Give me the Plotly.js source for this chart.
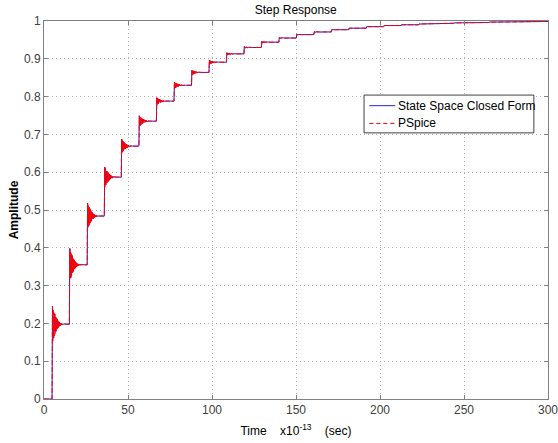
<!DOCTYPE html>
<html>
<head>
<meta charset="utf-8">
<script src="https://cdn.plot.ly/plotly-3.0.1.min.js"></script>
<style>html,body{margin:0;padding:0;background:#fff;}#chart{width:558px;height:443px;}</style>
</head>
<body>
<div id="chart"></div>
<script>
// Values
const stepTimes = [4.8, 15.1, 25.7, 35.9, 46.0, 56.5, 66.9, 77.4, 87.8, 98.2, 108.6, 119.0, 129.4, 139.8, 150.2, 160.6, 171.0, 181.4, 191.8, 202.2, 212.6, 223.0, 233.4, 243.8, 254.2, 264.6, 275.0, 285.4, 295.8];
const stepLevels = [0.198, 0.355, 0.484, 0.587, 0.669, 0.735, 0.788, 0.830, 0.864, 0.891, 0.913, 0.930, 0.944, 0.955, 0.964, 0.971, 0.977, 0.981, 0.985, 0.988, 0.990, 0.992, 0.994, 0.995, 0.996, 0.997, 0.998, 0.998, 0.999];
const stepPeaks  = [0.245, 0.398, 0.518, 0.614, 0.687, 0.749, 0.797, 0.838, 0.870, 0.896, 0.916, 0.932, 0.946, 0.956, 0.965, 0.972, 0.977, 0.981, 0.985, 0.988, 0.990, 0.992, 0.994, 0.995, 0.996, 0.997, 0.998, 0.998, 0.999];
const seriesNames = ['State Space Closed Form', 'PSpice'];
const xTicks = [0, 50, 100, 150, 200, 250, 300];
const yTicks = [0, 0.1, 0.2, 0.3, 0.4, 0.5, 0.6, 0.7, 0.8, 0.9, 1];

const ringDur = 8;
function buildWave(nRing) {
  const x = [0], y = [0];
  let prev = 0;
  for (let i = 0; i < stepTimes.length; i++) {
    const t0 = stepTimes[i], lv = stepLevels[i], pk = stepPeaks[i];
    x.push(t0); y.push(prev);
    x.push(t0 + 0.25); y.push(pk);
    const amp = pk - lv;
    for (let k = 1; k <= nRing; k++) {
      const f = k / nRing;
      const a = amp * Math.pow(1 - f, 3);
      x.push(t0 + 0.25 + ringDur * f);
      y.push(lv + (k % 2 ? -a : a));
    }
    prev = lv;
  }
  x.push(300); y.push(prev);
  return {x, y};
}
const blue = buildWave(12);
const red = buildWave(70);

const data = [
  {x: blue.x, y: blue.y, type: 'scatter', mode: 'lines', name: seriesNames[0],
   line: {color: '#2020e0', width: 1}},
  {x: red.x, y: red.y, type: 'scatter', mode: 'lines', name: seriesNames[1],
   line: {color: '#ff0000', width: 1, dash: '5px,2px'}}
];

const FONT = 'Liberation Sans, Arial, sans-serif';
const axisCommon = {
  showline: true, mirror: 'ticks', linecolor: '#808080', linewidth: 1,
  ticks: 'inside', ticklen: 4, tickcolor: '#808080',
  showgrid: true, gridcolor: '#b0b0b0', griddash: '1px,3px', gridwidth: 1,
  zeroline: false, ticklabeloverflow: 'allow',
  tickfont: {family: FONT, size: 12, color: '#404040'}
};

// legend box (paper coordinates)
const lgX0 = 0.635, lgX1 = 0.972, lgY0 = 0.704, lgY1 = 0.804;
const row1 = 0.776, row2 = 0.729;
const smpX0 = 0.6455, smpX1 = 0.697;

const layout = {
  width: 558, height: 443,
  margin: {l: 44, r: 10, t: 21, b: 44},
  paper_bgcolor: '#ffffff', plot_bgcolor: '#ffffff',
  font: {family: FONT, size: 12, color: '#000'},
  title: {text: 'Step Response', x: 0.53, xanchor: 'center', y: 0.977, yref: 'container', yanchor: 'middle',
          font: {family: FONT, size: 12, color: '#000'}},
  xaxis: Object.assign({}, axisCommon, {
    range: [0, 300.0001], tickmode: 'array', tickvals: xTicks, ticktext: xTicks.map(String),
    title: {text: 'Time\u00a0\u00a0\u00a0\u00a0x10<sup>-13</sup>\u00a0\u00a0\u00a0\u00a0(sec)', standoff: 10,
            font: {family: FONT, size: 12, color: '#000'}}
  }),
  yaxis: Object.assign({}, axisCommon, {
    range: [0, 1.000001], tickmode: 'array', tickvals: yTicks, ticktext: yTicks.map(String),
    title: {text: '<b>Amplitude</b>', standoff: 2,
            font: {family: FONT, size: 12, color: '#000'}}
  }),
  showlegend: false,
  shapes: [
    {type: 'rect', xref: 'paper', yref: 'paper', x0: lgX0, x1: lgX1, y0: lgY0, y1: lgY1,
     fillcolor: '#ffffff', line: {color: '#404040', width: 1}, layer: 'above'},
    {type: 'line', xref: 'paper', yref: 'paper', x0: smpX0, x1: smpX1, y0: row1, y1: row1,
     line: {color: '#2020e0', width: 1}, layer: 'above'},
    {type: 'line', xref: 'paper', yref: 'paper', x0: smpX0, x1: smpX1, y0: row2, y1: row2,
     line: {color: '#ff0000', width: 1, dash: '4px,3px'}, layer: 'above'}
  ],
  annotations: [
    {xref: 'paper', yref: 'paper', x: 0.699, y: row1, xanchor: 'left', yanchor: 'middle', showarrow: false,
     text: seriesNames[0], font: {family: FONT, size: 12, color: '#000'}},
    {xref: 'paper', yref: 'paper', x: 0.699, y: row2, xanchor: 'left', yanchor: 'middle', showarrow: false,
     text: seriesNames[1], font: {family: FONT, size: 12, color: '#000'}}
  ]
};

Plotly.newPlot('chart', data, layout, {displayModeBar: false, staticPlot: true});
</script>
</body>
</html>
